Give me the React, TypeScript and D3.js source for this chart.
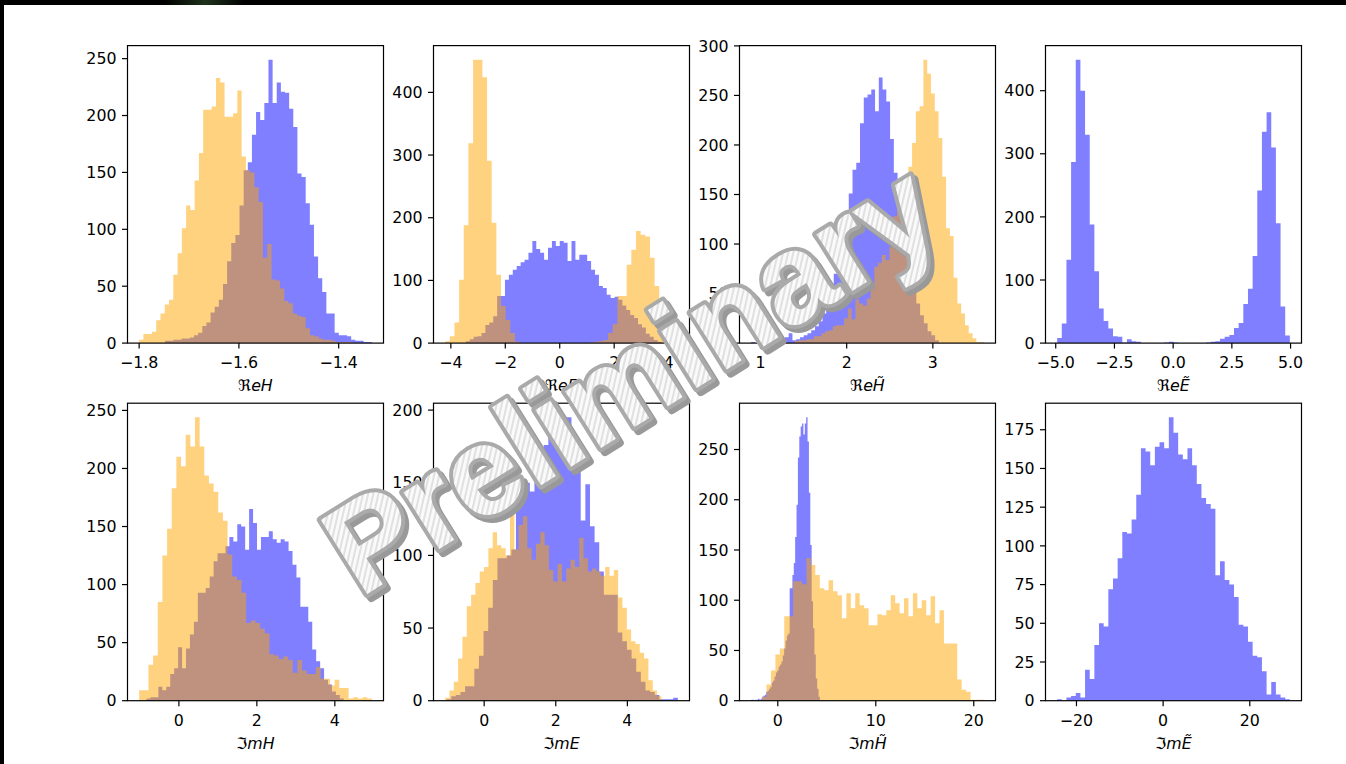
import React from 'react';
import * as d3 from 'd3';

// Histogram counts, 50 equal-width bins per series, plus the outer bin edges.
const reHBlue = [2, 2, 3, 3, 4, 4, 5, 7, 9, 15, 18, 27, 32, 38, 52, 72, 88, 95, 121, 152, 159, 183, 203, 196, 211, 249, 211, 229, 221, 220, 206, 190, 149, 146, 123, 104, 76, 57, 45, 26, 26, 9, 7, 7, 6, 3, 2, 2, 1, 1];
const reHBlueRange = [-1.748, -1.3335];
const reHOrange = [3, 8, 8, 10, 20, 26, 34, 38, 60, 79, 101, 121, 117, 143, 167, 205, 205, 208, 233, 229, 199, 199, 202, 222, 164, 152, 150, 137, 124, 75, 87, 56, 55, 48, 37, 35, 26, 24, 23, 13, 7, 6, 4, 3, 3, 2, 1, 1, 1, 1];
const reHOrangeRange = [-1.8, -1.372];

const reEBlue = [3, 6, 10, 11, 16, 29, 33, 43, 75, 75, 101, 109, 117, 123, 129, 133, 144, 163, 150, 144, 133, 152, 163, 155, 163, 160, 131, 163, 133, 141, 141, 131, 117, 109, 91, 88, 77, 72, 74, 69, 60, 53, 45, 40, 30, 25, 15, 10, 5, 2];
const reEBlueRange = [-3.45, 3.74];
const reEOrange = [3, 11, 33, 101, 188, 319, 452, 452, 424, 291, 192, 109, 59, 37, 16, 2, 0, 0, 0, 0, 0, 0, 0, 0, 0, 0, 0, 0, 0, 0, 0, 1, 2, 3, 5, 16, 30, 75, 75, 125, 149, 179, 173, 170, 136, 91, 40, 15, 5, 2];
const reEOrangeRange = [-4.21, 4.34];

const reHtBlue = [1, 0, 1, 1, 2, 1, 3, 2, 4, 6, 10, 3, 4, 6, 8, 10, 13, 17, 22, 30, 40, 55, 70, 95, 126, 126, 151, 175, 182, 222, 248, 251, 256, 234, 268, 256, 244, 206, 172, 155, 120, 100, 75, 55, 40, 28, 20, 12, 8, 3];
const reHtBlueRange = [0.891, 3.07];
const reHtOrange = [2, 3, 3, 4, 4, 7, 7, 10, 12, 13, 17, 18, 18, 25, 35, 24, 44, 40, 38, 45, 55, 77, 81, 89, 84, 97, 128, 140, 145, 150, 178, 202, 234, 239, 286, 272, 252, 234, 207, 168, 116, 108, 66, 40, 30, 18, 10, 5, 1, 1];
const reHtOrangeRange = [1.4, 3.592];

const reEtBlue = [8, 31, 132, 287, 449, 400, 330, 188, 114, 55, 35, 23, 11, 10, 1, 6, 3, 2, 0, 0, 0, 0, 0, 1, 2, 1, 0, 0, 0, 0, 0, 0, 1, 2, 3, 7, 10, 13, 24, 32, 62, 86, 138, 242, 335, 366, 310, 190, 58, 12];
const reEtBlueRange = [-4.94, 4.97];

const imHBlue = [2, 3, 3, 12, 9, 12, 23, 28, 46, 28, 45, 57, 68, 93, 93, 97, 107, 120, 127, 127, 133, 141, 137, 152, 150, 130, 165, 153, 130, 141, 141, 146, 139, 136, 139, 137, 129, 117, 106, 81, 81, 68, 44, 34, 28, 18, 14, 8, 5, 2];
const imHBlueRange = [-0.83, 4.23];
const imHOrange = [9, 9, 31, 39, 85, 125, 148, 183, 210, 202, 229, 219, 244, 219, 194, 187, 180, 162, 155, 126, 107, 104, 93, 67, 69, 67, 62, 58, 40, 39, 36, 38, 35, 24, 35, 26, 23, 23, 29, 19, 19, 13, 18, 11, 11, 2, 3, 2, 3, 2];
const imHOrangeRange = [-1.02, 4.95];

const imEBlue = [1, 3, 4, 6, 10, 10, 22, 31, 48, 64, 83, 98, 98, 100, 104, 132, 150, 150, 144, 164, 164, 176, 195, 176, 176, 195, 195, 176, 166, 124, 149, 120, 109, 89, 73, 73, 73, 47, 41, 35, 29, 20, 13, 7, 6, 4, 1, 1, 1, 2];
const imEBlueRange = [-1.05, 5.41];
const imEOrange = [2, 7, 13, 29, 44, 65, 73, 81, 89, 92, 105, 116, 107, 105, 100, 132, 104, 121, 127, 105, 97, 108, 116, 107, 90, 82, 94, 82, 91, 97, 92, 112, 98, 89, 91, 89, 86, 92, 86, 90, 71, 64, 49, 41, 39, 33, 29, 14, 7, 3];
const imEOrangeRange = [-1.09, 4.95];

const imHtBlue = [1, 1, 0, 1, 1, 2, 1, 2, 4, 5, 6, 9, 10, 12, 14, 18, 20, 24, 28, 30, 34, 36, 39, 45, 52, 60, 65, 67, 112, 112, 125, 137, 163, 195, 242, 263, 273, 276, 265, 276, 282, 258, 207, 155, 99, 72, 46, 22, 12, 4];
const imHtBlueRange = [-2.72, 4.3];
const imHtOrange = [4, 16, 30, 46, 52, 84, 84, 119, 119, 116, 142, 135, 125, 112, 110, 120, 109, 105, 82, 107, 92, 107, 95, 92, 75, 75, 86, 85, 90, 105, 97, 87, 102, 84, 107, 92, 100, 85, 104, 77, 90, 57, 57, 57, 21, 11, 9, 1, 1, 1];
const imHtOrangeRange = [-1.6, 21.03];

const imEtBlue = [1, 0, 2, 3, 5, 2, 20, 14, 36, 50, 48, 72, 79, 92, 109, 108, 117, 133, 163, 161, 152, 164, 167, 163, 183, 173, 159, 156, 163, 152, 140, 131, 127, 124, 81, 90, 78, 75, 67, 49, 48, 38, 29, 28, 19, 4, 12, 4, 2, 1];
const imEtBlueRange = [-24.46, 29.25];

// Axis titles: leading symbol upright, the rest in italics.
const titleSymbols = ['ℜ', 'ℜ', 'ℜ', 'ℜ', 'ℑ', 'ℑ', 'ℑ', 'ℑ'];
const titleRest = ['eH', 'eE', 'eH\u0303', 'eE\u0303', 'mH', 'mE', 'mH\u0303', 'mE\u0303'];

// Tick values per panel.
const xTickValues = [
  [-1.8, -1.6, -1.4],
  [-4, -2, 0, 2, 4],
  [1, 2, 3],
  [-5, -2.5, 0, 2.5, 5],
  [0, 2, 4],
  [0, 2, 4],
  [0, 10, 20],
  [-20, 0, 20],
];
const xTickDecimals = [1, 0, 0, 1, 0, 0, 0, 0];
const yTickValues = [
  [0, 50, 100, 150, 200, 250],
  [0, 100, 200, 300, 400],
  [0, 50, 100, 150, 200, 250, 300],
  [0, 100, 200, 300, 400],
  [0, 50, 100, 150, 200, 250],
  [0, 50, 100, 150, 200],
  [0, 50, 100, 150, 200, 250],
  [0, 25, 50, 75, 100, 125, 150, 175],
];

const BLUE = 'rgba(0,0,255,0.5)';
const ORANGE = 'rgba(255,165,0,0.5)';

type Hist = { counts: number[]; range: number[]; color: string };

const panelHists: Hist[][] = [
  [{ counts: reHBlue, range: reHBlueRange, color: BLUE }, { counts: reHOrange, range: reHOrangeRange, color: ORANGE }],
  [{ counts: reEBlue, range: reEBlueRange, color: BLUE }, { counts: reEOrange, range: reEOrangeRange, color: ORANGE }],
  [{ counts: reHtBlue, range: reHtBlueRange, color: BLUE }, { counts: reHtOrange, range: reHtOrangeRange, color: ORANGE }],
  [{ counts: reEtBlue, range: reEtBlueRange, color: BLUE }],
  [{ counts: imHBlue, range: imHBlueRange, color: BLUE }, { counts: imHOrange, range: imHOrangeRange, color: ORANGE }],
  [{ counts: imEBlue, range: imEBlueRange, color: BLUE }, { counts: imEOrange, range: imEOrangeRange, color: ORANGE }],
  [{ counts: imHtBlue, range: imHtBlueRange, color: BLUE }, { counts: imHtOrange, range: imHtOrangeRange, color: ORANGE }],
  [{ counts: imEtBlue, range: imEtBlueRange, color: BLUE }],
];

const WIDTH = 1346;
const HEIGHT = 764;
const AX_W = 256;
const AX_H = 297.5;
const AX_LEFTS = [127.5, 433.5, 739.5, 1045.5];
const AX_TOPS = [45.6, 403.2];
const FONT = '"DejaVu Sans", sans-serif';
const WM_FONT = '"Liberation Sans", Arial, sans-serif';
const FS = 15.8;
const TICK = 5.5;

function HistPanel({ idx }: { idx: number }) {
  const hists = panelHists[idx];
  const left = AX_LEFTS[idx % 4];
  const top = AX_TOPS[Math.floor(idx / 4)];
  const bottom = top + AX_H;

  const edges = hists.flatMap((h) => h.range);
  const lo = d3.min(edges) as number;
  const hi = d3.max(edges) as number;
  const pad = (hi - lo) * 0.05;
  const x = d3.scaleLinear().domain([lo - pad, hi + pad]).range([left, left + AX_W]);
  const yMax = (d3.max(hists, (h) => d3.max(h.counts)) as number) * 1.05;
  const y = d3.scaleLinear().domain([0, yMax]).range([bottom, top]);

  const area = d3
    .area<[number, number]>()
    .x((d) => x(d[0]))
    .y0(y(0))
    .y1((d) => y(d[1]))
    .curve(d3.curveStepAfter);

  const fmt = d3.format(xTickDecimals[idx] ? '.1f' : 'd');
  const yfmt = d3.format('d');

  return (
    <g>
      {hists.map((h, k) => {
        const w = (h.range[1] - h.range[0]) / h.counts.length;
        const pts: [number, number][] = h.counts.map((c, i) => [h.range[0] + i * w, c]);
        pts.push([h.range[1], h.counts[h.counts.length - 1]]);
        return <path key={k} d={area(pts) || ''} fill={h.color} stroke="none" />;
      })}
      <rect x={left} y={top} width={AX_W} height={AX_H} fill="none" stroke="#000" strokeWidth={1.2} />
      {xTickValues[idx].map((v) => (
        <g key={'x' + v}>
          <line x1={x(v)} x2={x(v)} y1={bottom} y2={bottom + TICK} stroke="#000" strokeWidth={1.2} />
          <text x={x(v)} y={bottom + 25} textAnchor="middle" fontFamily={FONT} fontSize={FS} fill="#000">
            {fmt(v)}
          </text>
        </g>
      ))}
      {yTickValues[idx].map((v) => (
        <g key={'y' + v}>
          <line x1={left - TICK} x2={left} y1={y(v)} y2={y(v)} stroke="#000" strokeWidth={1.2} />
          <text x={left - 11} y={y(v) + 5.7} textAnchor="end" fontFamily={FONT} fontSize={FS} fill="#000">
            {yfmt(v)}
          </text>
        </g>
      ))}
      <text x={left + AX_W / 2} y={bottom + 48} textAnchor="middle" fontFamily={FONT} fontSize={FS} fill="#000">
        <tspan>{titleSymbols[idx]}</tspan>
        <tspan fontStyle="italic">{titleRest[idx]}</tspan>
      </text>
    </g>
  );
}

export default function App() {
  const wmFont = { fontFamily: WM_FONT, fontWeight: 'bold' as const, fontSize: 127 };
  return (
    <svg
      width={WIDTH}
      height={HEIGHT}
      viewBox={`0 0 ${WIDTH} ${HEIGHT}`}
      style={{ position: 'absolute', left: 0, top: 0, background: '#fff' }}
    >
      <defs>
        <pattern id="wmStripes" width="5" height="5" patternUnits="userSpaceOnUse" patternTransform="rotate(45)">
          <rect width="5" height="5" fill="#fafafa" />
          <rect width="2" height="5" fill="#e0e0e0" />
        </pattern>
        <linearGradient id="topGlow" x1="0" x2="1" y1="0" y2="0">
          <stop offset="0" stopColor="#000" />
          <stop offset="0.5" stopColor="#1f331c" />
          <stop offset="1" stopColor="#000" />
        </linearGradient>
      </defs>
      <rect x={0} y={0} width={WIDTH} height={HEIGHT} fill="#fff" />
      {d3.range(8).map((i) => (
        <HistPanel key={i} idx={i} />
      ))}
      {/* watermark */}
      <g transform="translate(634,382) rotate(-32)" {...wmFont}>
        <text textAnchor="middle" dominantBaseline="central" fill="#999" stroke="#999" strokeWidth={8} strokeLinejoin="round">
          Preliminary
        </text>
      </g>
      <g transform="translate(630,378) rotate(-32)" {...wmFont}>
        <text
          textAnchor="middle"
          dominantBaseline="central"
          fill="url(#wmStripes)"
          stroke="#aaa"
          strokeWidth={8}
          strokeLinejoin="round"
          paintOrder="stroke"
        >
          Preliminary
        </text>
      </g>
      {/* frame edges */}
      <rect x={0} y={0} width={WIDTH} height={5} fill="#000" />
      <rect x={165} y={0} width={80} height={5} fill="url(#topGlow)" />
      <rect x={0} y={0} width={4} height={HEIGHT} fill="#000" />
    </svg>
  );
}
